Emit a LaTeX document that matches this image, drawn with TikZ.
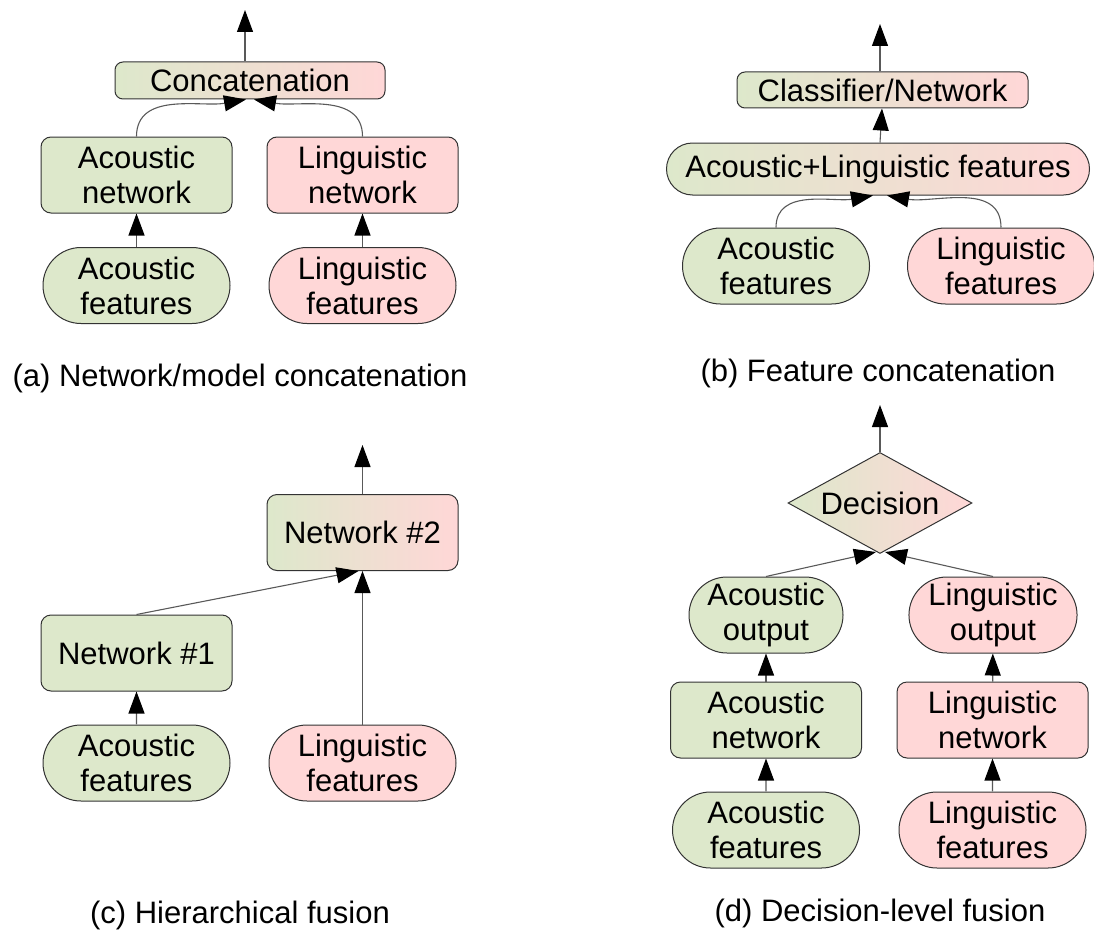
\documentclass[tikz,border=0pt]{standalone}
\usepackage{fontspec}
\setmainfont{Liberation Sans}
\usetikzlibrary{arrows.meta,shapes.misc,shapes.geometric}
\definecolor{acgreen}{HTML}{DDE8CB}
\definecolor{lnpink}{HTML}{FFD7D7}
\tikzset{
  box/.style={draw=black!80, line width=1pt, rounded corners=10pt, minimum width=191pt, minimum height=76pt, align=center, inner sep=2pt},
  featbox/.style={draw=black!80, line width=1pt, rounded rectangle, minimum width=191pt, minimum height=76pt, align=center, inner sep=2pt},
  ac/.style={fill=acgreen},
  ln/.style={fill=lnpink},
  mix/.style={left color=acgreen, right color=lnpink},
  arr/.style={draw=black!65, line width=1.1pt, -{Triangle[length=22pt,width=16pt,color=black]}},
}

\begin{document}
\begin{tikzpicture}[x=1pt, y=-1pt, font=\fontsize{31}{35}\selectfont]
\useasboundingbox (0,0) rectangle (1094,931);

% (a) network/model concatenation
\node[box, mix, minimum width=270pt, minimum height=37pt, rounded corners=8pt] (cat) at (250,80.5) {Concatenation};
\node[box, ac] (aNetA) at (136.5,175) {Acoustic\\network};
\node[box, ln] (aNetL) at (362.5,175) {Linguistic\\network};
\node[featbox, ac] (aFeatA) at (136.5,285.5) {Acoustic\\features};
\node[featbox, ln] (aFeatL) at (362.5,285.5) {Linguistic\\features};
\coordinate (aOut) at (245,10);
\draw[arr] ([xshift=-5pt]cat.north) -- (aOut);
\draw[arr] (aFeatA) -- (aNetA);
\draw[arr] (aFeatL) -- (aNetL);
\draw[arr] (aNetA.north) to[out=90, in=190] ([xshift=-4pt]cat.south);
\draw[arr] (aNetL.north) to[out=90, in=-10] ([xshift=4pt]cat.south);
\node (capA) at (240,378) {(a) Network/model concatenation};

% (b) feature concatenation
\node[box, mix, minimum width=291pt, minimum height=36pt, rounded corners=8pt] (cls) at (882.5,90) {Classifier/Network};
\node[featbox, mix, minimum width=427pt, minimum height=52pt] (bFeatAL) at (878,169) {Acoustic+Linguistic features};
\node[featbox, ac] (bFeatA) at (776,266) {Acoustic\\features};
\node[featbox, ln] (bFeatL) at (1001,266) {Linguistic\\features};
\coordinate (bOut) at (880,24);
\draw[arr] ([xshift=-2.5pt]cls.north) -- (bOut);
\draw[arr] ([xshift=2pt]bFeatAL.north) -- ([xshift=-0.5pt]cls.south);
\draw[arr] (bFeatA.north) to[out=90, in=190] ([xshift=-5pt]bFeatAL.south);
\draw[arr] (bFeatL.north) to[out=90, in=-10] ([xshift=9pt]bFeatAL.south);
\node (capB) at (878,373) {(b) Feature concatenation};

% (c) hierarchical fusion
\node[box, mix] (net2) at (362.5,532.5) {Network \#2};
\node[box, ac] (net1) at (136.5,653) {Network \#1};
\node[featbox, ac] (cFeatA) at (136.5,763) {Acoustic\\features};
\node[featbox, ln] (cFeatL) at (362.5,763) {Linguistic\\features};
\coordinate (cOut) at (362.5,445);
\draw[arr] (net2) -- (cOut);
\draw[arr] (cFeatA) -- (net1);
\draw[arr] (cFeatL) -- (net2);
\draw[arr] (net1.north) -- ([xshift=-4pt]net2.south);
\node (capC) at (240,915) {(c) Hierarchical fusion};

% (d) decision-level fusion
\node[draw=black!80, line width=1pt, diamond, aspect=1.82, mix, minimum width=184pt, minimum height=101pt, inner sep=0pt] (dec) at (880,503) {Decision};
\node[featbox, ac, minimum width=158pt] (dOutA) at (766,615) {Acoustic\\output};
\node[featbox, ln, minimum width=158pt] (dOutL) at (993,615) {Linguistic\\output};
\node[box, ac] (dNetA) at (766,720) {Acoustic\\network};
\node[box, ln] (dNetL) at (992.5,720) {Linguistic\\network};
\node[featbox, ac] (dFeatA) at (766,830) {Acoustic\\features};
\node[featbox, ln] (dFeatL) at (992.5,830) {Linguistic\\features};
\coordinate (dOut) at (880,405);
\draw[arr] (dec) -- (dOut);
\draw[arr] (dFeatA) -- (dNetA);
\draw[arr] (dFeatL) -- (dNetL);
\draw[arr] (dNetA) -- (dOutA);
\draw[arr] (dNetL) -- (dOutL);
\draw[arr] (dOutA.north) -- ([xshift=-4pt, yshift=2pt]dec.south);
\draw[arr] (dOutL.north) -- ([xshift=5pt, yshift=2pt]dec.south);
\node (capD) at (880,913) {(d) Decision-level fusion};
\end{tikzpicture}
\end{document}
